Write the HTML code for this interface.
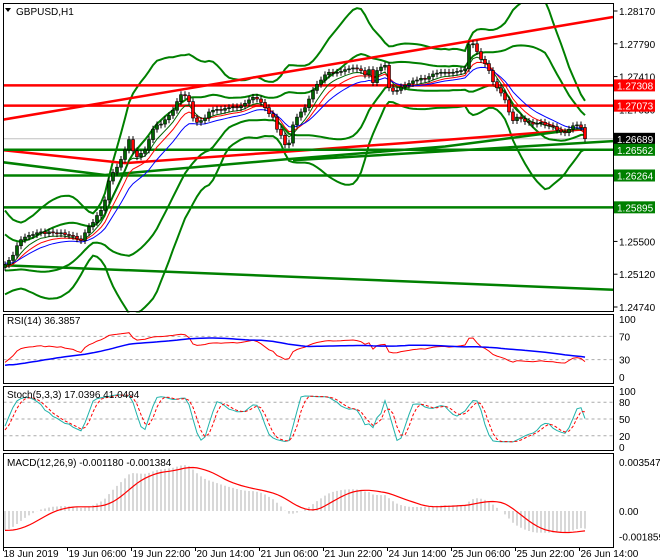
<!DOCTYPE html>
<html><head><meta charset="utf-8">
<style>
html,body{margin:0;padding:0;background:#fff;}
svg{display:block;font-family:"Liberation Sans",sans-serif;font-size:10px;}
</style></head>
<body>
<svg id="chart" width="660" height="560" viewBox="0 0 660 560">
<rect x="0" y="0" width="660" height="560" fill="#fff"/>
<g id="main"></g>
<g id="rsi"></g>
<g id="stoch"></g>
<g id="macd"></g>
<g id="axes"></g>
</svg>
<script>
const priorCloses=[1.2592,1.2588,1.2590,1.2584,1.2580,1.2582,1.2575,1.2571,1.2573,1.2566,
1.2562,1.2564,1.2558,1.2553,1.2556,1.2549,1.2545,1.2547,1.2541,1.2537,
1.2539,1.2533,1.2530,1.2532,1.2527,1.2524,1.2526,1.2521,1.2519,1.2520];
const closes=[1.2523,1.2528,1.2534,1.2545,1.2552,1.2555,1.2557,1.2558,1.2560,1.2561,
1.2559,1.2561,1.2560,1.2559,1.2560,1.2558,1.2557,1.2556,1.2553,1.2551,
1.2560,1.2567,1.2572,1.2580,1.2586,1.2598,1.2620,1.2630,1.2636,1.2645,
1.2656,1.2668,1.2655,1.2648,1.2652,1.2656,1.2668,1.2680,1.2685,1.2686,
1.2691,1.2696,1.2702,1.2712,1.2720,1.2719,1.2712,1.2693,1.2688,1.2690,
1.2693,1.2700,1.2702,1.2703,1.2702,1.2704,1.2705,1.2706,1.2705,1.2707,
1.2710,1.2714,1.2717,1.2715,1.2711,1.2705,1.2698,1.2694,1.2680,1.2673,
1.2662,1.2664,1.2685,1.2694,1.2700,1.2705,1.2715,1.2725,1.2732,1.2737,
1.2743,1.2746,1.2745,1.2746,1.2747,1.2749,1.2750,1.2751,1.2750,1.2748,
1.2743,1.2749,1.2734,1.2748,1.2752,1.2754,1.2728,1.2724,1.2725,1.2729,
1.2731,1.2733,1.2736,1.2737,1.2739,1.2738,1.2741,1.2744,1.2745,1.2746,
1.2746,1.2745,1.2746,1.2747,1.2748,1.2750,1.2778,1.2779,1.2770,1.2761,
1.2756,1.2748,1.2735,1.2728,1.2722,1.2714,1.2700,1.2690,1.2694,1.2692,
1.2689,1.2688,1.2686,1.2687,1.2688,1.2685,1.2684,1.2683,1.2679,1.2677,
1.2676,1.2680,1.2684,1.2685,1.2682,1.2669];
const firstOpen=1.2520;
const priceTicks=[1.28170,1.27790,1.27410,1.25500,1.25120,1.24740];
const hLevelsRed=[1.27308,1.27073];
const hLevelsGreen=[1.26562,1.26264,1.25895];
const currentPrice=1.26689;
const timeLabels=["18 Jun 2019","19 Jun 06:00","19 Jun 22:00","20 Jun 14:00","21 Jun 06:00","21 Jun 22:00","24 Jun 14:00","25 Jun 06:00","25 Jun 22:00","26 Jun 14:00"];
const timeLabelBars=[0,16,32,48,64,80,96,112,128,144];
const redTrendBars=[-1,152], redTrendPrices=[1.26907,1.28100];
const greenTrendBars=[-1,152], greenTrendPrices=[1.25226,1.24940];
const redLongBars=[-1,30,70,100,145], redLongPrices=[1.26559,1.26408,1.26540,1.26640,1.26800];
const greenLongBars=[-1,25,70,110,145], greenLongPrices=[1.26420,1.26270,1.26450,1.26600,1.26810];
const greenSlopeBars=[72,152], greenSlopePrices=[1.26440,1.26663];

const NS="http://www.w3.org/2000/svg";
const X0=3.5,X1=613.5;
const P=priorCloses.length;
const all=priorCloses.concat(closes);
function xB(i){return 5+4*i;}
function yP(p){return 11+(1.2817-p)*8630;}
function el(parent,tag,attrs){const e=document.createElementNS(NS,tag);for(const k in attrs)e.setAttribute(k,attrs[k]);parent.appendChild(e);return e;}
function poly(parent,pts,color,w,name,dash){const e=el(parent,'polyline',{points:pts.map(p=>p[0].toFixed(1)+','+p[1].toFixed(1)).join(' '),fill:'none',stroke:color,'stroke-width':w});if(dash)e.setAttribute('stroke-dasharray',dash);


return e;}
function sma(a,n){return a.map((v,i)=>{const s=a.slice(Math.max(0,i-n+1),i+1);return s.reduce((x,y)=>x+y,0)/s.length;});}
function ema(a,n){const k=2/(n+1);let r=[];a.forEach((v,i)=>r.push(i?v*k+r[i-1]*(1-k):v));return r;}
function std(a,n){const m=sma(a,n);return a.map((v,i)=>{const s=a.slice(Math.max(0,i-n+1),i+1);return Math.sqrt(s.reduce((x,y)=>x+(y-m[i])**2,0)/s.length);});}
function cut(a){return a.slice(P);}

const main=document.getElementById('main');
const clip=el(main,'clipPath',{id:'mclip'});el(clip,'rect',{x:X0,y:3.5,width:X1-X0,height:309});
const mg=el(main,'g',{'clip-path':'url(#mclip)'});
const cp=el(mg,'line',{x1:X0,x2:X1,y1:yP(currentPrice),y2:yP(currentPrice),stroke:'#c0c0c0','stroke-width':1});


const mid=cut(sma(all,20)),sd=cut(std(all,20));
poly(mg,closes.map((c,i)=>[xB(i),yP(mid[i]+3*sd[i]+0.0008)]),'#008000',2,'wide-bollinger-upper');
poly(mg,closes.map((c,i)=>[xB(i),yP(mid[i]-3*sd[i]-0.0008)]),'#008000',2,'wide-bollinger-lower');
poly(mg,closes.map((c,i)=>[xB(i),yP(mid[i]+1.4*sd[i]+0.0002)]),'#008000',2,'bollinger-upper');
poly(mg,closes.map((c,i)=>[xB(i),yP(mid[i]-1.4*sd[i]-0.0002)]),'#008000',2,'bollinger-lower');
poly(mg,redLongBars.map((b,k)=>[xB(b),yP(redLongPrices[k])]),'#ff0000',2.5,'long-ma-red');
poly(mg,greenLongBars.map((b,k)=>[xB(b),yP(greenLongPrices[k])]),'#008000',2.5,'long-ma-green');
poly(mg,greenSlopeBars.map((b,k)=>[xB(b),yP(greenSlopePrices[k])]),'#008000',2.5,'green-trendline-mid');
poly(mg,redTrendBars.map((b,k)=>[xB(b),yP(redTrendPrices[k])]),'#ff0000',2.5,'red-trendline');
poly(mg,greenTrendBars.map((b,k)=>[xB(b),yP(greenTrendPrices[k])]),'#008000',2.5,'green-trendline-bottom');
hLevelsRed.forEach(p=>{const l=el(mg,'line',{x1:X0,x2:X1,y1:yP(p),y2:yP(p),stroke:'#ff0000','stroke-width':2.5});

});
hLevelsGreen.forEach(p=>{const l=el(mg,'line',{x1:X0,x2:X1,y1:yP(p),y2:yP(p),stroke:'#008000','stroke-width':2.5});

});
poly(mg,cut(ema(all,5)).map((v,i)=>[xB(i),yP(v-0.0003)]),'#006400',1,'ma-fast');
poly(mg,cut(ema(all,8)).map((v,i)=>[xB(i),yP(v-0.0004)]),'#ff0000',1,'ma-medium');
poly(mg,cut(ema(all,13)).map((v,i)=>[xB(i),yP(v-0.0005)]),'#0000ff',1,'ma-slow');
closes.forEach((c,i)=>{const o=i?closes[i-1]:firstOpen;const hi=Math.max(o,c)+0.0004,lo=Math.min(o,c)-0.0004;
const g=el(mg,'g',{});


el(g,'line',{x1:xB(i),x2:xB(i),y1:yP(hi),y2:yP(lo),stroke:'#000','stroke-width':1});
const t=yP(Math.max(o,c)),b=yP(Math.min(o,c));
el(g,'rect',{x:xB(i)-1.5,y:t,width:3,height:Math.max(1,b-t),fill:c>=o?'#006400':'#ff0000',stroke:'#000','stroke-width':0.6});
});
const title=el(main,'text',{x:16,y:15,fill:'#000'});title.textContent='GBPUSD,H1';


const tri=el(main,'path',{d:'M5 8 L11 8 L8 12 Z',fill:'#000'});



const axes=document.getElementById('axes');
[[3.5,311.5],[314.5,383.5],[386.5,450.5],[453.5,547.5]].forEach(([a,b])=>{const r=el(axes,'rect',{x:X0,y:a,width:X1-X0,height:b-a,fill:'none',stroke:'#000','stroke-width':1});

});
priceTicks.forEach(p=>{const y=yP(p);el(axes,'line',{x1:X1,x2:X1+4,y1:y,y2:y,stroke:'#000'});
const t=el(axes,'text',{x:619,y:y+4,fill:'#000'});t.textContent=p.toFixed(5);

});
function tag(p,bg){const y=yP(p);const r=el(axes,'rect',{x:614,y:y-6,width:41,height:12,fill:bg});


const t=el(axes,'text',{x:617,y:y+4,fill:'#fff'});t.textContent=p.toFixed(5);

}
const t1=el(axes,'text',{x:619,y:yP(1.2703)+4,fill:'#000'});t1.textContent='1.27030';
hLevelsRed.forEach(p=>tag(p,'#ff0000'));
tag(currentPrice,'#000');
hLevelsGreen.forEach(p=>tag(p,'#008000'));

// RSI
const rsiG=document.getElementById('rsi');
function yR(v){return 377-(v/100)*58;}
let rsiAll=[],ag=0,al=0;
all.forEach((c,i)=>{if(!i){rsiAll.push(40);return;}const d=c-all[i-1];const g=Math.max(d,0),l=Math.max(-d,0);
if(i<=14){ag=(ag*(i-1)+g)/i;al=(al*(i-1)+l)/i;}else{ag=(ag*13+g)/14;al=(al*13+l)/14;}
rsiAll.push(al===0?100:100-100/(1+ag/al));});
rsiAll=rsiAll.map(v=>30+(v-30)*0.75);
const rsi=cut(rsiAll),rsiSig=cut(sma(rsiAll,30));
[70,30].forEach(v=>el(rsiG,'line',{x1:X0,x2:X1,y1:yR(v),y2:yR(v),stroke:'#aaa','stroke-dasharray':'3,3'}));
poly(rsiG,rsi.map((v,i)=>[xB(i),yR(v)]),'#ff0000',1,'rsi-line');
poly(rsiG,rsiSig.map((v,i)=>[xB(i),yR(v)]),'#0000ff',1.5,'rsi-signal-line');
[[100,'100'],[70,'70'],[30,'30'],[0,'0']].forEach(([v,s])=>{const t=el(rsiG,'text',{x:619,y:yR(v)+4});t.textContent=s;});
let tt=el(rsiG,'text',{x:7,y:324});tt.textContent='RSI(14) 36.3857';

// Stoch
const stG=document.getElementById('stoch');
function yS(v){return 447-v/100*56;}
const hiA=all.map(c=>c+0.0004),loA=all.map(c=>c-0.0004);
const rawK=all.map((c,i)=>{const h=Math.max(...hiA.slice(Math.max(0,i-4),i+1)),l=Math.min(...loA.slice(Math.max(0,i-4),i+1));return (c-l)/(h-l)*100;});
const kAll=sma(rawK,3),kS=cut(kAll),dS=cut(sma(kAll,3));
[80,50,20].forEach(v=>el(stG,'line',{x1:X0,x2:X1,y1:yS(v),y2:yS(v),stroke:'#aaa','stroke-dasharray':'3,3'}));
poly(stG,kS.map((v,i)=>[xB(i),yS(v)]),'#20b2aa',1,'stoch-k-line');
poly(stG,dS.map((v,i)=>[xB(i),yS(v)]),'#ff0000',1,'stoch-d-line','3,2');
[[100,'100'],[80,'80'],[50,'50'],[20,'20'],[0,'0']].forEach(([v,s])=>{const t=el(stG,'text',{x:619,y:yS(v)+4});t.textContent=s;});
tt=el(stG,'text',{x:7,y:398});tt.textContent='Stoch(5,3,3) 17.0396 41.0494';

// MACD
const mG=document.getElementById('macd');
function yM(v){return 511-v*13800;}
const e12=ema(all,12),e26=ema(all,26);
const macdAll=e12.map((v,i)=>v-e26[i]);
const macd=cut(macdAll),sig=cut(sma(macdAll,9));
macd.forEach((v,i)=>{const l=el(mG,'line',{x1:xB(i),x2:xB(i),y1:yM(0),y2:yM(v),stroke:'#b0b0b0','stroke-width':1});

});
poly(mG,sig.map((v,i)=>[xB(i),yM(v)]),'#ff0000',1.2,'macd-signal-line');
[[0.003547,'0.003547'],[0,'0.00'],[-0.001859,'-0.001859']].forEach(([v,s])=>{const t=el(mG,'text',{x:619,y:yM(v)+4});t.textContent=s;});
tt=el(mG,'text',{x:7,y:466});tt.textContent='MACD(12,26,9) -0.001180 -0.001384';

// time axis
timeLabels.forEach((s,k)=>{const x=X0+4*timeLabelBars[k];el(axes,'line',{x1:x,x2:x,y1:548,y2:551,stroke:'#000'});
const t=el(axes,'text',{x:x+(k?1:0),y:557});t.textContent=s;

});
</script>
</body></html>
